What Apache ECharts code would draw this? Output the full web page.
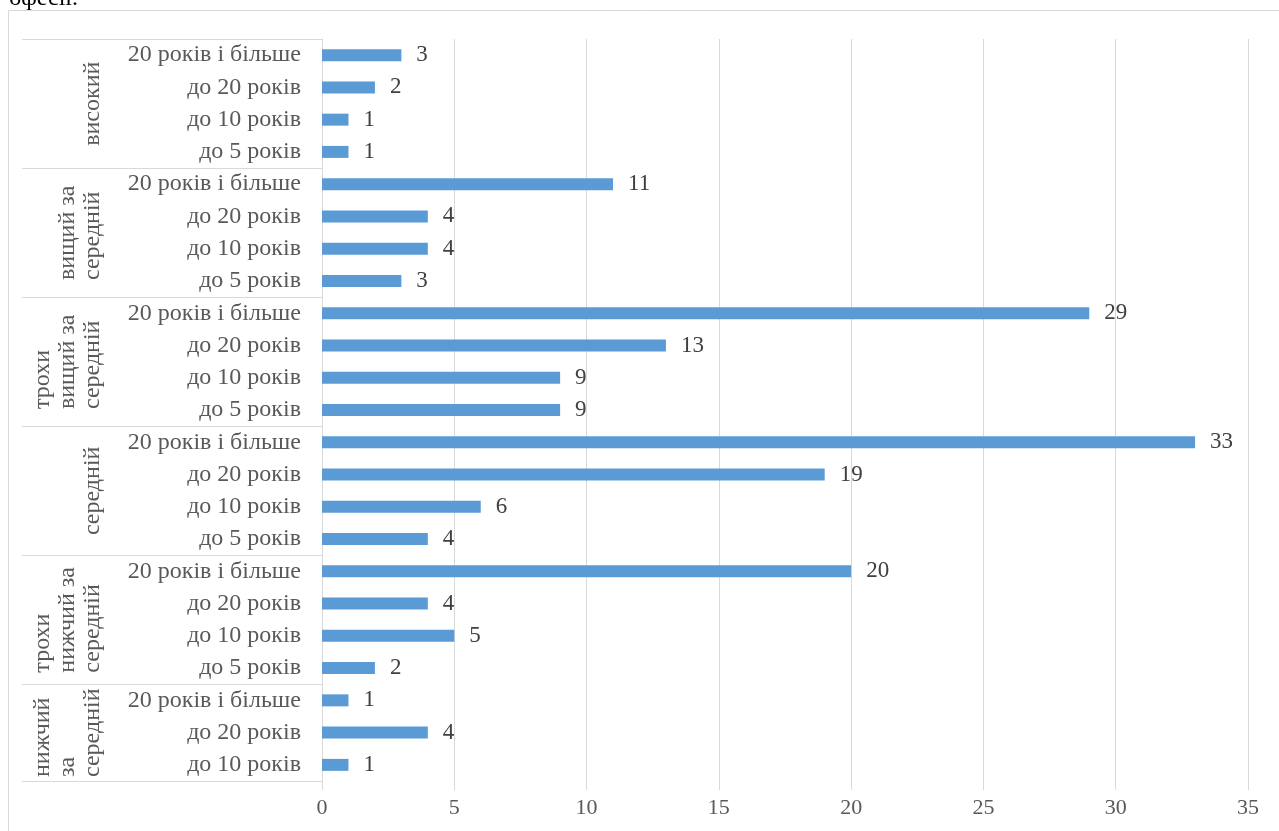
<!DOCTYPE html>
<html>
<head>
<meta charset="utf-8">
<script src="https://cdn.jsdelivr.net/npm/echarts@6/dist/echarts.min.js"></script>
<style>
  html, body { margin: 0; padding: 0; background: #fff; }
  #main { width: 1279px; height: 831px; }
</style>
</head>
<body>
<div id="main"></div>
<script>
// категорії (зверху вниз)
const categories = [
  '20 років і більше', 'до 20 років', 'до 10 років', 'до 5 років',
  '20 років і більше', 'до 20 років', 'до 10 років', 'до 5 років',
  '20 років і більше', 'до 20 років', 'до 10 років', 'до 5 років',
  '20 років і більше', 'до 20 років', 'до 10 років', 'до 5 років',
  '20 років і більше', 'до 20 років', 'до 10 років', 'до 5 років',
  '20 років і більше', 'до 20 років', 'до 10 років'
]
const values = [
  3, 2, 1, 1,
  11, 4, 4, 3,
  29, 13, 9, 9,
  33, 19, 6, 4,
  20, 4, 5, 2,
  1, 4, 1
]
// групи: назва та кількість категорій
const groupNames = [
  'високий',
  'вищий за\nсередній',
  'трохи\nвищий за\nсередній',
  'середній',
  'трохи\nнижчий за\nсередній',
  'нижчий\nза\nсередній'
]
const groupSizes = [4, 4, 4, 4, 4, 3]
const xTicks = [0, 35, 5] // min, max, interval

const FONT = '"Liberation Serif", "Times New Roman", serif'
const GRID_COLOR = '#D9D9D9'

const chart = echarts.init(document.getElementById('main'))

const option = {
  animation: false,
  backgroundColor: '#fff',
  grid: { left: 322, right: 31, top: 39, bottom: 50 },
  xAxis: {
    type: 'value',
    min: xTicks[0],
    max: xTicks[1],
    interval: xTicks[2],
    axisLine: { show: false },
    axisTick: { show: true, length: 9, lineStyle: { color: GRID_COLOR } },
    splitLine: { lineStyle: { color: GRID_COLOR, width: 1 } },
    axisLabel: {
      color: '#595959',
      fontSize: 22,
      fontFamily: FONT,
      margin: 16
    }
  },
  yAxis: {
    type: 'category',
    inverse: true,
    data: categories,
    axisLine: { show: true, lineStyle: { color: GRID_COLOR } },
    axisTick: { show: false },
    axisLabel: {
      color: '#595959',
      fontSize: 24,
      fontFamily: FONT,
      margin: 21
    }
  },
  series: [
    {
      type: 'bar',
      data: values,
      barWidth: 12,
      itemStyle: { color: '#5B9BD5' },
      label: {
        show: true,
        position: 'right',
        distance: 15,
        color: '#404040',
        fontSize: 23,
        fontFamily: FONT
      }
    }
  ]
}
chart.setOption(option)

// таблиця груп зліва від осі
const measureCtx = document.createElement('canvas').getContext('2d')
measureCtx.font = '24px ' + FONT

const yOf = (i) => chart.convertToPixel({ yAxisIndex: 0 }, i)
const band = yOf(1) - yOf(0)
const axisX = chart.convertToPixel({ xAxisIndex: 0 }, 0)
const tableLeft = 22

const graphics = []
// рамка діаграми
graphics.push({
  type: 'rect',
  shape: { x: 8.5, y: 10.5, width: 1400, height: 1000 },
  style: { fill: null, stroke: GRID_COLOR, lineWidth: 1 },
  silent: true
})
// обрізаний текст документа над діаграмою
graphics.push({
  type: 'text',
  x: 78,
  y: 11,
  style: {
    text: 'офесії.',
    font: '24px ' + FONT,
    fill: '#000',
    align: 'right',
    textAlign: 'right',
    verticalAlign: 'bottom',
    textVerticalAlign: 'bottom'
  },
  silent: true
})

let start = 0
const hLine = (y) => ({
  type: 'line',
  shape: { x1: tableLeft, y1: y, x2: axisX, y2: y },
  style: { stroke: GRID_COLOR, lineWidth: 1 },
  silent: true
})
groupSizes.forEach((size, g) => {
  const top = Math.round(yOf(start) - band / 2) + 0.5
  const bottom = yOf(start + size - 1) + band / 2
  if (g === 0) graphics.push(hLine(top))
  graphics.push(hLine(Math.round(bottom) + 0.5))
  const lines = groupNames[g].split('\n')
  const maxW = Math.max(...lines.map((l) => measureCtx.measureText(l).width))
  const centerY = (top + bottom) / 2
  graphics.push({
    type: 'text',
    x: 105,
    y: centerY + maxW / 2,
    rotation: Math.PI / 2,
    style: {
      text: groupNames[g],
      font: '24px ' + FONT,
      lineHeight: 25,
      fill: '#595959',
      align: 'left',
      textAlign: 'left',
      verticalAlign: 'bottom',
      textVerticalAlign: 'bottom'
    },
    silent: true
  })
  start += size
})

chart.setOption({ graphic: { elements: graphics } })
</script>
</body>
</html>
